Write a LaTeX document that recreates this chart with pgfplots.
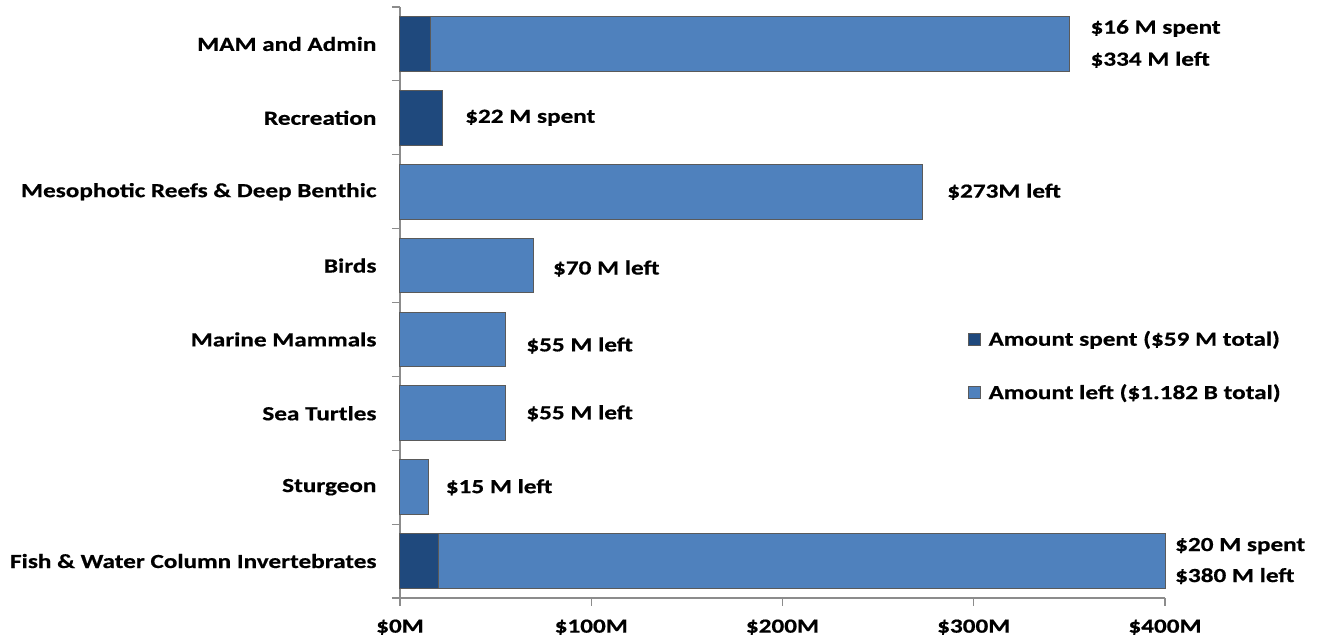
\documentclass[border=0pt]{standalone}
\usepackage{pgfplots}
\pgfplotsset{compat=1.18}
\usepackage{fontspec}
\setmainfont{Carlito}[FakeStretch=1.26, BoldFeatures={FakeBold=0.6}]
\definecolor{cspent}{RGB}{31,73,125}
\definecolor{cleft}{RGB}{79,129,189}
\definecolor{cedge}{RGB}{90,90,90}
\definecolor{axgray}{RGB}{140,140,140}
\tikzset{lbl/.style={anchor=west, font=\bfseries\fontsize{20}{24}\selectfont, inner sep=0pt}}
\begin{document}
\begin{tikzpicture}
\useasboundingbox (-400pt,-41pt) rectangle (917pt,598pt);
\begin{axis}[
  at={(0,0)}, anchor=south west,
  scale only axis, width=765pt, height=591pt,
  xbar stacked, bar width=0.74,
  xmin=0, xmax=400, ymin=-0.5, ymax=7.5,
  axis x line*=bottom, axis y line*=left,
  axis line style={axgray, line width=1.2pt},
  xtick={0,100,200,300,400},
  xticklabels={\$0M,\$100M,\$200M,\$300M,\$400M},
  ytick={0,...,7},
  yticklabels={Fish \& Water Column Invertebrates,Sturgeon,Sea Turtles,Marine Mammals,Birds,Mesophotic Reefs \& Deep Benthic,Recreation,MAM and Admin},
  minor ytick={-0.5,0.5,...,7.5},
  major y tick style={draw=none},
  minor tick length=8pt,
  major tick length=8pt,
  tick align=outside,
  tick style={axgray, line width=1.2pt},
  x tick label style={yshift=-10pt},
  y tick label style={xshift=-12pt},
  ticklabel style={font=\bfseries\fontsize{20}{24}\selectfont},
  legend style={at={(0.742,0.393)}, anchor=west, draw=none, fill=none,
    font=\bfseries\fontsize{20}{24}\selectfont, row sep=33pt, column sep=6pt, inner sep=0pt},
  legend cell align=left,
  legend image code/.code={\draw[#1, draw=cedge, line width=0.8pt] (0pt,-6pt) rectangle (12pt,6pt);},
  clip=false,
]
\addplot[fill=cspent, draw=cedge, line width=1pt] coordinates {(20,0) (0,1) (0,2) (0,3) (0,4) (0,5) (22,6) (16,7)};
\addplot[fill=cleft, draw=cedge, line width=1pt] coordinates {(380,0) (15,1) (55,2) (55,3) (70,4) (273,5) (0,6) (334,7)};
\legend{Amount spent (\$59 M total),Amount left (\$1.182 B total)}
\node[lbl, align=left, xshift=21pt] at (axis cs:350,7) {\$16 M spent\\[8pt]\$334 M left};
\node[lbl, xshift=23pt] at (axis cs:22,6) {\$22 M spent};
\node[lbl, xshift=25pt] at (axis cs:273,5) {\$273M left};
\node[lbl, xshift=19pt, yshift=-3pt] at (axis cs:70,4) {\$70 M left};
\node[lbl, xshift=21pt, yshift=-6pt] at (axis cs:55,3) {\$55 M left};
\node[lbl, xshift=21pt] at (axis cs:55,2) {\$55 M left};
\node[lbl, xshift=17pt] at (axis cs:15,1) {\$15 M left};
\node[lbl, align=left, xshift=10pt] at (axis cs:400,0) {\$20 M spent\\[7pt]\$380 M left};
\end{axis}
\end{tikzpicture}
\end{document}
